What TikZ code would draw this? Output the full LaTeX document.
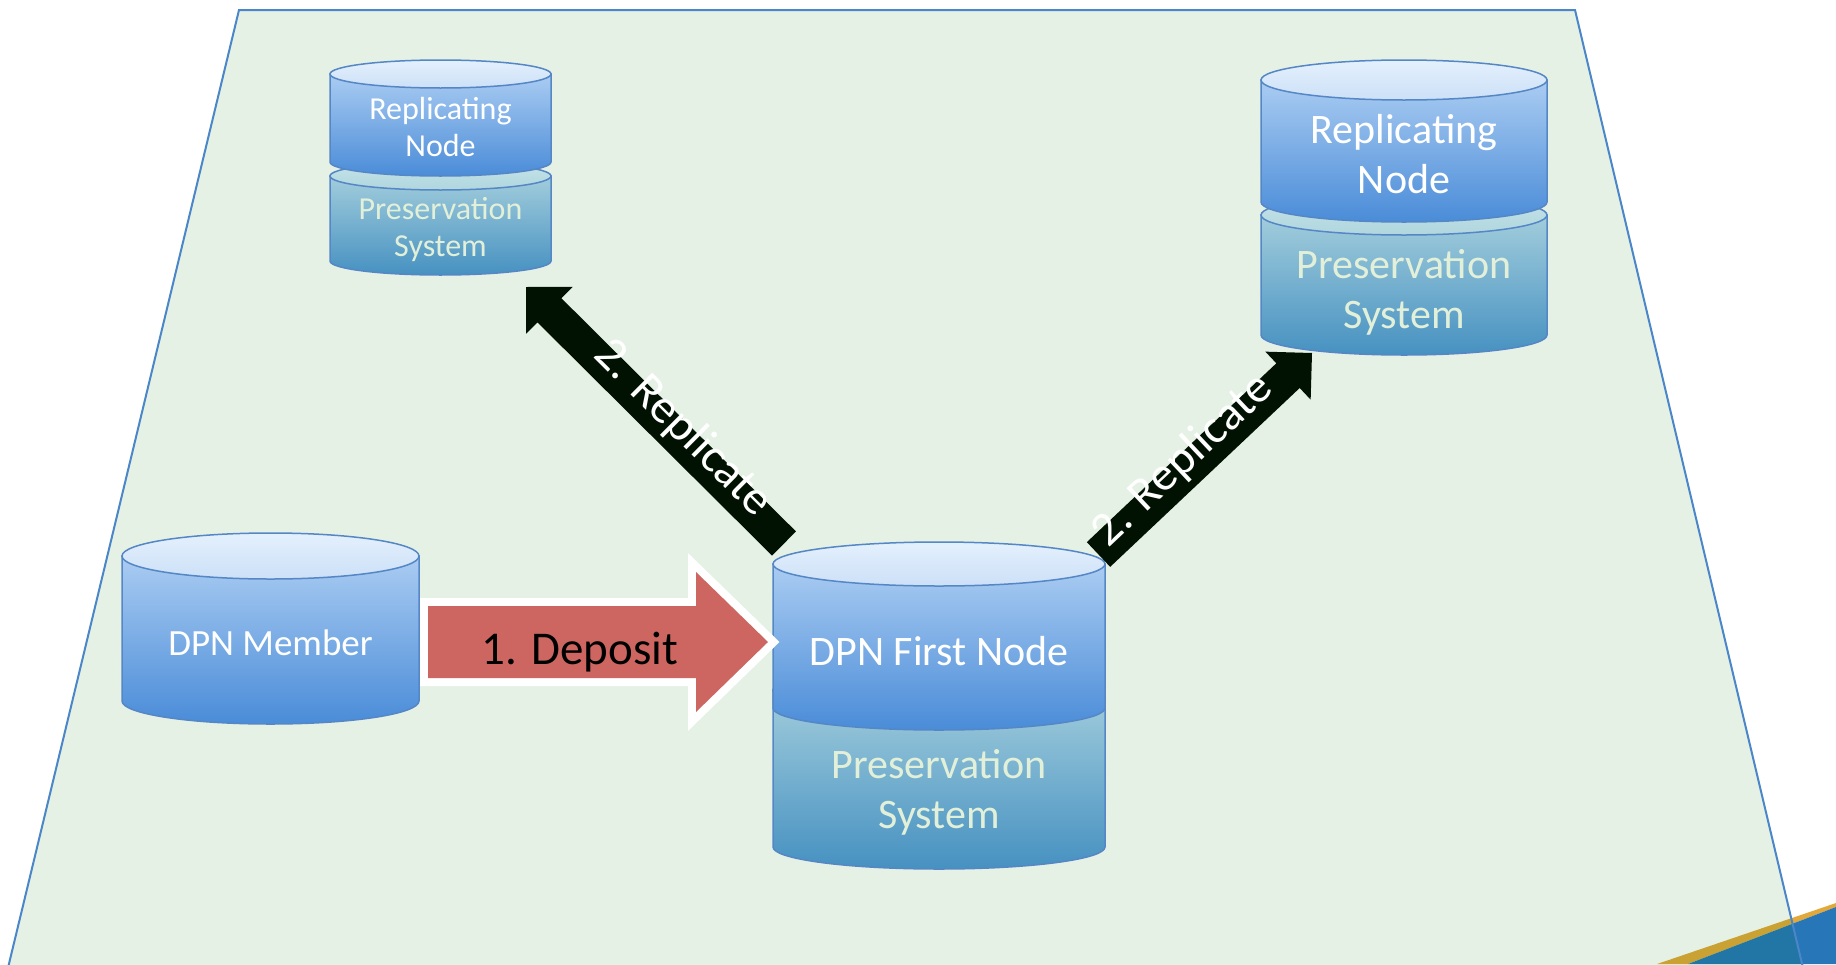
\documentclass[tikz,border=0pt]{standalone}
\usepackage{fontspec}
\setmainfont{Carlito}
\usepackage{tikz}
\usetikzlibrary{calc}

\definecolor{planefill}{RGB}{0,118,0}
\definecolor{planeline}{HTML}{4A86C8}
\definecolor{cylline}{HTML}{5587C6}
\definecolor{bluecaptop}{HTML}{E4F0FD}
\definecolor{bluecapbot}{HTML}{CCE0F7}
\definecolor{bluetop}{HTML}{AACCF2}
\definecolor{bluebot}{HTML}{4A8CD8}
\definecolor{psyscaptop}{HTML}{C4E3E8}
\definecolor{psyscapbot}{HTML}{B0D6DE}
\definecolor{psystop}{HTML}{A2CDDC}
\definecolor{psysbot}{HTML}{4691C1}
\definecolor{psystext}{HTML}{E2F0D9}
\definecolor{depositred}{HTML}{CD6660}
\definecolor{replblack}{HTML}{011203}
\definecolor{stripeblue}{HTML}{2676B8}
\definecolor{stripeorange}{HTML}{E2A83A}

% one cylinder part: cx, y of top, y of bottom, rx, ry, colour set
\newcommand{\dbpart}[6]{%
  \shadedraw[top color=#6top, bottom color=#6bot, draw=cylline, line width=1.5pt]
    (#1-#4,#2) -- (#1-#4,#3) arc[start angle=180, end angle=0, x radius=#4, y radius=#5]
    -- (#1+#4,#2) -- cycle;
  \shadedraw[top color=#6captop, bottom color=#6capbot, draw=cylline, line width=1.5pt]
    (#1,#2) ellipse [x radius=#4, y radius=#5];
}

% block arrow: style, from, to, shaft half width, head half width, head length
\newcommand{\blockarrow}[6]{%
  \coordinate (#2-hd) at ($(#3)!#6!(#2)$);
  \path[#1] ($(#2)!#4!90:(#3)$) -- ($(#2-hd)!#4!90:(#3)$) -- ($(#2-hd)!#5!90:(#3)$) -- (#3)
    -- ($(#2-hd)!#5!-90:(#3)$) -- ($(#2-hd)!#4!-90:(#3)$) -- ($(#2)!#4!-90:(#3)$) -- cycle;
}

\tikzset{
  dbtext/.style={text=white, align=center},
  pstext/.style={text=psystext, align=center},
  fsmall/.style={font=\fontsize{32}{37}\selectfont},
  fbig/.style={font=\fontsize{42}{50}\selectfont},
  fmember/.style={font=\fontsize{37}{44}\selectfont},
  depositarrow/.style={fill=depositred, preaction={draw=white, line width=16pt, line join=miter}},
  replarrow/.style={fill=replblack},
  repltext/.style={text=white, anchor=mid, font=\fontsize{48}{56}\selectfont},
}

\begin{document}
\begin{tikzpicture}[x=1pt, y=-1pt]
\useasboundingbox (0,0) rectangle (1836,964);

% corner stripes
\fill[stripeorange] (1657,964) -- (1836,903) -- (1836,907) -- (1688,964) -- cycle;
\fill[stripeblue] (1688,964) -- (1836,907) -- (1836,964) -- cycle;

% plane (bottom edge runs off the page)
\filldraw[draw=planeline, line width=2pt, fill=planefill, fill opacity=0.1]
  (239,10) -- (1575,10) -- (1804,972) -- (7,972) -- cycle;

% cylinders
\dbpart{440.5}{176}{261}{110.5}{14}{psys}
\dbpart{440.5}{74}{162}{110.5}{14}{blue}
\dbpart{1404}{215}{335}{143}{20}{psys}
\dbpart{1404}{80}{202}{143}{20}{blue}
\dbpart{939}{690}{847}{166}{22}{psys}
\dbpart{939}{564}{708}{166}{22}{blue}
\dbpart{270.5}{556}{701}{148.5}{23}{blue}

\node[dbtext, fsmall] (replA) at (440.5,127) {Replicating\\Node};
\node[pstext, fsmall] (psysA) at (440.5,230) {Preservation\\System};
\node[dbtext, fbig] (replB) at (1404,154) {Replicating\\Node};
\node[pstext, fbig] (psysB) at (1404,292) {Preservation\\System};
\node[dbtext, fbig] (first) at (939,651) {DPN First Node};
\node[pstext, fbig] (psysC) at (939,792) {Preservation\\System};
\node[dbtext, fmember] (member) at (270.5,643) {DPN Member};

% arrows
\coordinate (dep-s) at ($(member)+(157.5,-1)$);
\coordinate (dep-e) at ($(first)+(-171,-9)$);
\coordinate (repA-s) at ($(first)+(-155,-107.5)$);
\coordinate (repA-e) at ($(replA)+(85.5,160)$);
\coordinate (repB-s) at ($(first)+(159.5,-96.5)$);
\coordinate (repB-e) at ($(replB)+(-92,199)$);

\blockarrow{depositarrow}{dep-s}{dep-e}{36pt}{70pt}{72pt}
\node[font=\fontsize{47}{56}\selectfont] (deplabel) at (580,652) {1. Deposit};

\blockarrow{replarrow}{repA-s}{repA-e}{17pt}{33pt}{33pt}
\path (repA-s) -- (repA-e) node[pos=0.42, sloped, repltext] (repA-lbl) {2. Replicate};
\blockarrow{replarrow}{repB-s}{repB-e}{17pt}{33pt}{33pt}
\path (repB-s) -- (repB-e) node[pos=0.43, sloped, repltext] (repB-lbl) {2. Replicate};
\end{tikzpicture}
\end{document}
